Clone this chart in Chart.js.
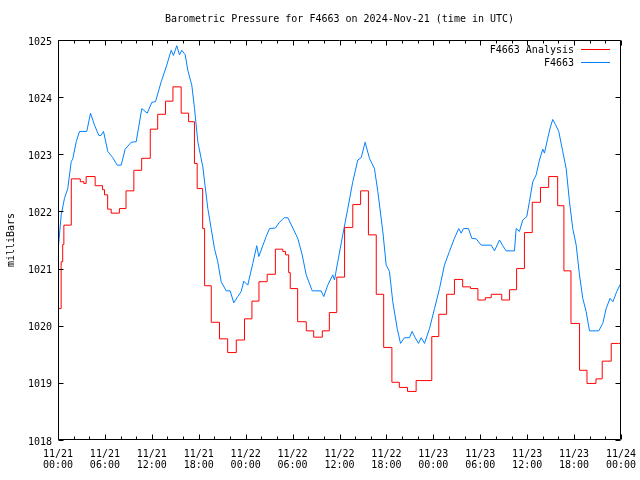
<!DOCTYPE html>
<html>
<head>
<meta charset="utf-8">
<script src="https://cdn.jsdelivr.net/npm/chart.js@4"></script>
<style>
  html, body { margin: 0; padding: 0; background: #fff; }
  canvas { display: block; }
</style>
</head>
<body>
<canvas id="chart" width="640" height="480"></canvas>
<script>
const titleText = 'Barometric Pressure for F4663 on 2024-Nov-21 (time in UTC)';
const seriesNames = ['F4663 Analysis', 'F4663'];
const seriesColors = ['#ff0000', '#0080ff'];

// hours since 11/21 00:00 UTC
const tickDays = ['11/21', '11/21', '11/21', '11/21', '11/22', '11/22', '11/22', '11/22', '11/23', '11/23', '11/23', '11/23', '11/24'];
const tickTimes = ['00:00', '06:00', '12:00', '18:00', '00:00', '06:00', '12:00', '18:00', '00:00', '06:00', '12:00', '18:00', '00:00'];
const yTicks = [1018, 1019, 1020, 1021, 1022, 1023, 1024, 1025];

// analysis (step changes)
const analysisHours = [0, 0.4, 0.6, 0.75, 1.7, 2.85, 3.3, 3.6, 4.75, 5.7, 5.95, 6.35, 6.8, 7.85, 8.7,
  9.7, 10.7, 11.8, 12.75, 13.75, 14.7, 15.75, 16.7, 17.45, 17.8, 18.5, 18.75, 19.6, 20.65, 21.7,
  22.8, 23.85, 24.8, 25.7, 26.75, 27.8, 28.75, 29.1, 29.5, 29.7, 30.65, 31.75, 32.7, 33.8, 34.7,
  35.65, 36.65, 37.7, 38.7, 39.7, 40.7, 41.65, 42.7, 43.65, 44.7, 45.8, 47.8, 48.7, 49.7, 50.7,
  51.75, 52.75, 53.7, 54.65, 55.4, 56.75, 57.75, 58.65, 59.65, 60.65, 61.7, 62.75, 63.9, 64.7, 65.6,
  66.7, 67.65, 68.8, 69.6, 70.75, 71.7, 72];
const analysisValues = [1020.48, 1020.30, 1021.12, 1021.42, 1021.76, 1022.57, 1022.52, 1022.49, 1022.61, 1022.45, 1022.38, 1022.29, 1022.04, 1021.97, 1022.05,
  1022.36, 1022.72, 1022.93, 1023.44, 1023.70, 1023.93, 1024.18, 1023.72, 1023.57, 1022.84, 1022.40, 1021.70, 1020.70, 1020.06, 1019.77,
  1019.53, 1019.75, 1020.12, 1020.43, 1020.77, 1020.90, 1021.34, 1021.30, 1021.24, 1020.93, 1020.65, 1020.07, 1019.91, 1019.80, 1019.91,
  1020.23, 1020.85, 1021.72, 1022.12, 1022.36, 1021.59, 1020.55, 1019.62, 1019.01, 1018.92, 1018.85, 1019.04, 1019.81, 1020.20, 1020.55,
  1020.81, 1020.68, 1020.65, 1020.45, 1020.49, 1020.55, 1020.45, 1020.63, 1021.00, 1021.63, 1022.16, 1022.42, 1022.61, 1022.10, 1020.96,
  1020.04, 1019.22, 1018.99, 1019.07, 1019.38, 1019.69, 1019.69];

// station observations
const stationHours = [0, 0.41, 0.83, 1.25, 1.69, 1.89, 2.33, 2.75, 3.68, 4.16, 4.67, 5.22, 5.5, 5.82, 6.37,
  7.01, 7.57, 8.08, 8.59, 9.36, 10.0, 10.72, 11.41, 12.0, 12.47, 13.2, 13.84, 14.48, 14.77, 15.19,
  15.54, 15.83, 16.27, 16.6, 17.11, 17.46, 17.88, 18.52, 19.16, 19.59, 20.01, 20.43, 20.87, 21.51, 22.02,
  22.48, 22.99, 23.43, 23.76, 24.27, 24.91, 25.42, 25.68, 26.19, 26.62, 27.05, 27.81, 28.32, 28.71, 28.96,
  29.39, 30.03, 30.66, 31.23, 31.74, 32.51, 33.66, 33.99, 34.5, 35.14, 35.36, 35.78, 36.42, 37.06, 37.7,
  38.34, 38.77, 39.28, 39.83, 40.47, 40.9, 41.54, 41.97, 42.39, 42.81, 43.38, 43.8, 44.31, 44.95, 45.29,
  45.68, 46.1, 46.45, 46.87, 47.51, 48.15, 48.79, 49.42, 50.06, 50.7, 51.25, 51.56, 51.85, 52.49, 52.92,
  53.48, 54.12, 55.4, 55.82, 56.46, 56.88, 57.31, 58.38, 58.59, 59.01, 59.44, 59.95, 60.29, 60.72, 61.15,
  61.57, 62.0, 62.21, 62.63, 62.94, 63.27, 63.62, 64.04, 64.55, 64.99, 65.41, 65.83, 66.27, 66.69, 67.11,
  67.54, 67.97, 69.16, 69.67, 70.1, 70.6, 70.97, 71.46, 71.9, 72];
const stationValues = [1021.30, 1021.94, 1022.23, 1022.40, 1022.87, 1022.92, 1023.22, 1023.40, 1023.40, 1023.72, 1023.51, 1023.33, 1023.33, 1023.40, 1023.05,
  1022.94, 1022.81, 1022.81, 1023.09, 1023.21, 1023.22, 1023.80, 1023.72, 1023.91, 1023.92, 1024.27, 1024.53, 1024.82, 1024.73, 1024.90,
  1024.74, 1024.82, 1024.74, 1024.47, 1024.21, 1023.80, 1023.22, 1022.78, 1022.05, 1021.70, 1021.35, 1021.12, 1020.77, 1020.61, 1020.61,
  1020.40, 1020.51, 1020.60, 1020.78, 1020.71, 1021.09, 1021.40, 1021.21, 1021.40, 1021.56, 1021.70, 1021.71, 1021.81, 1021.86, 1021.89,
  1021.89, 1021.71, 1021.53, 1021.24, 1020.89, 1020.61, 1020.61, 1020.51, 1020.71, 1020.89, 1020.80, 1021.12, 1021.59, 1022.05, 1022.52,
  1022.90, 1022.94, 1023.21, 1022.93, 1022.75, 1022.35, 1021.65, 1021.06, 1020.95, 1020.42, 1019.95, 1019.69, 1019.79, 1019.79, 1019.90,
  1019.79, 1019.69, 1019.79, 1019.69, 1019.95, 1020.30, 1020.65, 1021.06, 1021.30, 1021.53, 1021.70, 1021.62, 1021.70, 1021.70, 1021.53,
  1021.52, 1021.41, 1021.41, 1021.31, 1021.50, 1021.40, 1021.31, 1021.31, 1021.70, 1021.65, 1021.85, 1021.91, 1022.17, 1022.52, 1022.64,
  1022.90, 1023.09, 1023.02, 1023.28, 1023.46, 1023.61, 1023.52, 1023.40, 1023.05, 1022.75, 1022.17, 1021.70, 1021.41, 1020.89, 1020.48,
  1020.25, 1019.91, 1019.91, 1020.04, 1020.30, 1020.48, 1020.42, 1020.60, 1020.72, 1020.72];

const FONT = 'DejaVu Sans Mono';

function toPoints(xs, ys) {
  return xs.map((x, i) => ({ x: x, y: ys[i] }));
}

// border, inward ticks, title and legend, gnuplot style
const frame = {
  id: 'frame',
  afterDraw(chart) {
    const { ctx, chartArea: a, scales: { x, y } } = chart;
    ctx.save();
    ctx.strokeStyle = '#000';
    ctx.lineWidth = 1;
    const L = Math.round(a.left) + 0.5, R = Math.round(a.right) - 0.5;
    const T = Math.round(a.top) + 0.5, B = Math.round(a.bottom) - 0.5;
    ctx.beginPath();
    ctx.rect(L, T, R - L, B - T);
    for (let h = 0; h <= 72; h += 2) {
      const px = Math.round(x.getPixelForValue(h)) + 0.5;
      const len = h % 6 === 0 ? 5 : 3;
      ctx.moveTo(px, B); ctx.lineTo(px, B - len);
      ctx.moveTo(px, T); ctx.lineTo(px, T + len);
    }
    yTicks.forEach(v => {
      const py = Math.round(y.getPixelForValue(v)) + 0.5;
      ctx.moveTo(L, py); ctx.lineTo(L + 5, py);
      ctx.moveTo(R, py); ctx.lineTo(R - 5, py);
    });
    ctx.stroke();

    ctx.fillStyle = '#000';
    ctx.font = '10px "' + FONT + '"';
    ctx.textBaseline = 'middle';
    ctx.textAlign = 'center';
    ctx.fillText(titleText, (a.left + a.right) / 2, 19);

    ctx.textAlign = 'right';
    seriesNames.forEach((name, i) => {
      const ly = 49.5 + i * 13;
      ctx.fillText(name, 574, ly + 1);
      ctx.strokeStyle = seriesColors[i];
      ctx.beginPath();
      ctx.moveTo(581, ly); ctx.lineTo(610, ly);
      ctx.stroke();
    });
    ctx.restore();
  }
};

new Chart(document.getElementById('chart'), {
  type: 'line',
  data: {
    datasets: [
      {
        label: seriesNames[0],
        data: toPoints(analysisHours, analysisValues),
        borderColor: seriesColors[0],
        borderWidth: 1,
        pointRadius: 0,
        stepped: 'after',
        fill: false
      },
      {
        label: seriesNames[1],
        data: toPoints(stationHours, stationValues),
        borderColor: seriesColors[1],
        borderWidth: 1,
        pointRadius: 0,
        tension: 0,
        fill: false
      }
    ]
  },
  options: {
    responsive: false,
    animation: false,
    devicePixelRatio: 1,
    layout: { padding: { top: 40, right: 19, left: 0, bottom: 0 } },
    plugins: {
      legend: { display: false },
      title: { display: false },
      tooltip: { enabled: false }
    },
    scales: {
      x: {
        type: 'linear',
        min: 0,
        max: 72,
        grid: { display: false, drawTicks: false },
        border: { display: false },
        afterFit(s) { s.height = 40; s.paddingLeft = 0; s.paddingRight = 0; },
        ticks: {
          stepSize: 6,
          autoSkip: false,
          maxRotation: 0,
          padding: 9,
          color: '#000',
          font: { family: FONT, size: 10, lineHeight: 1.12 },
          callback: (v) => {
            const i = Math.round(v / 6);
            return [tickDays[i], tickTimes[i]];
          }
        }
      },
      y: {
        min: 1018,
        max: 1025,
        grid: { display: false, drawTicks: false },
        border: { display: false },
        afterFit(s) { s.width = 58; s.paddingTop = 0; s.paddingBottom = 0; },
        ticks: {
          stepSize: 1,
          padding: 6,
          labelOffset: 2,
          color: '#000',
          font: { family: FONT, size: 10 },
          callback: (v) => String(v)
        },
        title: {
          display: true,
          text: 'milliBars',
          color: '#000',
          padding: { top: 5, bottom: 0 },
          font: { family: FONT, size: 10 }
        }
      }
    }
  },
  plugins: [frame]
});
</script>
</body>
</html>
